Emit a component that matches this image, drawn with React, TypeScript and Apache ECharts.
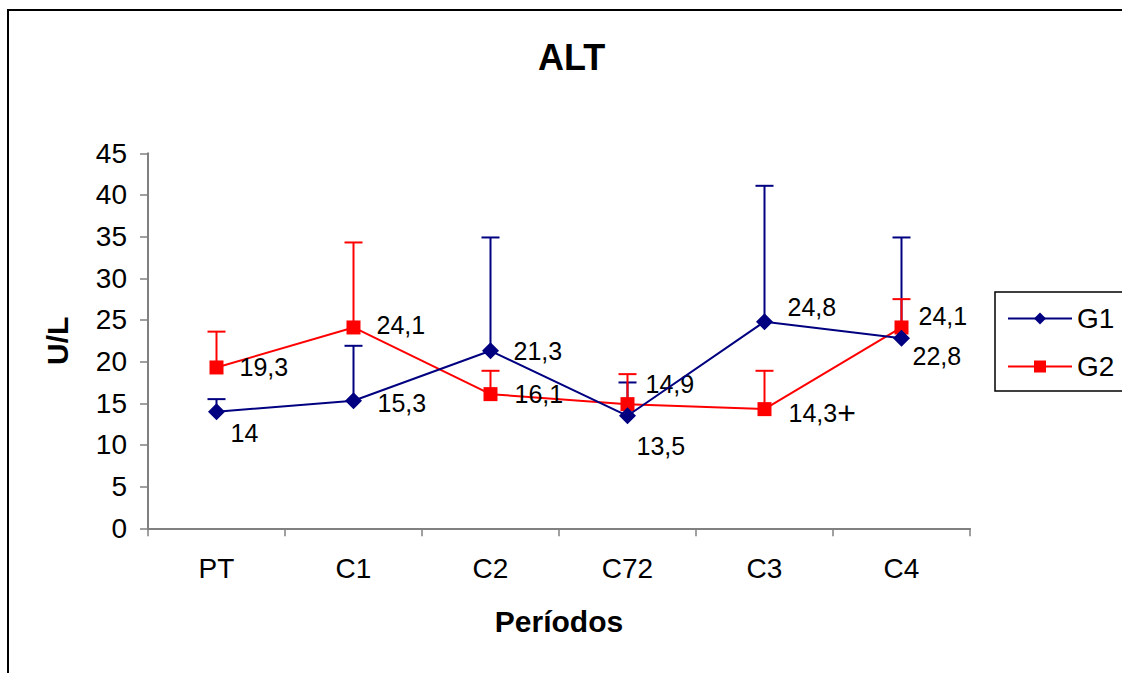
import React, { useEffect, useRef } from 'react';
import * as echarts from 'echarts';

// ---- data ----
const categories = ['PT', 'C1', 'C2', 'C72', 'C3', 'C4'];
const g1Mean = [14, 15.3, 21.3, 13.5, 24.8, 22.8];
const g1Upper = [15.5, 21.9, 34.9, 17.5, 41.1, 34.9];
const g2Mean = [19.3, 24.1, 16.1, 14.9, 14.3, 24.1];
const g2Upper = [23.6, 34.3, 18.9, 18.5, 18.9, 27.5];
const g2Marks = ['', '', '', '', '+', ''];
const yMin = 0;
const yMax = 45;
const yInterval = 5;

// ---- layout: label offsets from point centre [dx to text left, dy to text middle] ----
const g1LabelOffsets = [[14, 21], [24, 2], [23, 0], [9, 30], [23, -15], [11, 18]];
const g2LabelOffsets = [[23, 0], [23, -2], [24, 0], [18, -20], [24, 4], [17, -11]];

const FONT = "'Liberation Sans', Arial, sans-serif";
const BLUE = '#000080';
const RED = '#ff0000';

const fmt = (v: number) => String(v).replace('.', ',');

function lineData(means: number[], offsets: number[][], size: number, marks?: string[]) {
  return means.map((v, i) => ({
    value: v,
    label: {
      show: true,
      position: 'right',
      distance: 0,
      offset: [offsets[i][0] - size / 2, offsets[i][1]],
      formatter: fmt(v) + (marks && marks[i] ? '{m|' + marks[i] + '}' : ''),
      color: '#000',
      fontSize: 25,
      fontFamily: FONT,
      rich: { m: { fontSize: 32, color: '#000', fontFamily: FONT } },
    },
  }));
}

function errorSeries(name: string, means: number[], uppers: number[], color: string) {
  return {
    type: 'custom',
    name,
    z: 1,
    silent: true,
    data: means.map((m, i) => [i, m, uppers[i]]),
    encode: { x: 0, y: [1, 2] },
    renderItem: (params: any, api: any) => {
      const i = api.value(0);
      const p0 = api.coord([i, api.value(1)]);
      const p1 = api.coord([i, api.value(2)]);
      const cap = 9;
      const style = { stroke: color, lineWidth: 2 };
      return {
        type: 'group',
        children: [
          { type: 'line', shape: { x1: p0[0], y1: p0[1], x2: p1[0], y2: p1[1] }, style },
          { type: 'line', shape: { x1: p1[0] - cap, y1: p1[1], x2: p1[0] + cap, y2: p1[1] }, style },
        ],
      };
    },
  };
}

export default function App() {
  const ref = useRef<HTMLDivElement>(null);
  useEffect(() => {
    if (!ref.current) return;
    const chart = echarts.init(ref.current, undefined, { renderer: 'svg' });
    chart.setOption({
      animation: false,
      backgroundColor: '#fff',
      textStyle: { fontFamily: FONT },
      title: {
        text: 'ALT',
        left: 533,
        top: 34,
        textStyle: { fontSize: 36, fontWeight: 'bold', color: '#000', fontFamily: FONT },
      },
      graphic: [
        {
          type: 'rect',
          shape: { x: 8, y: 10, width: 1300, height: 900 },
          style: { fill: 'none', stroke: '#000', lineWidth: 2 },
          silent: true,
          z: -10,
        },
      ],
      legend: {
        data: ['G1', 'G2'],
        orient: 'vertical',
        left: 995,
        top: 292,
        padding: [12, 60, 10, 12],
        itemWidth: 64,
        itemHeight: 15,
        itemGap: 19,
        borderColor: '#000',
        borderWidth: 1.5,
        textStyle: { fontSize: 28, color: '#000', fontFamily: FONT, lineHeight: 29 },
      },
      grid: { left: 148, right: 152, top: 153.3, bottom: 144.7, containLabel: false },
      xAxis: {
        type: 'category',
        data: categories,
        boundaryGap: true,
        name: 'Períodos',
        nameLocation: 'middle',
        nameGap: 78,
        nameTextStyle: { fontSize: 30, fontWeight: 'bold', color: '#000', fontFamily: FONT },
        axisLine: { lineStyle: { color: '#808080', width: 2 } },
        axisTick: { show: true, length: 8, lineStyle: { color: '#808080', width: 1.5 } },
        axisLabel: { fontSize: 28, color: '#000', margin: 26, fontFamily: FONT },
        splitLine: { show: false },
      },
      yAxis: {
        type: 'value',
        min: yMin,
        max: yMax,
        interval: yInterval,
        name: 'U/L',
        nameLocation: 'middle',
        nameGap: 76,
        nameRotate: 90,
        nameTextStyle: { fontSize: 30, fontWeight: 'bold', color: '#000', fontFamily: FONT },
        axisLine: { show: true, lineStyle: { color: '#808080', width: 2 } },
        axisTick: { show: true, length: 8, lineStyle: { color: '#808080', width: 1.5 } },
        axisLabel: { fontSize: 28, color: '#000', margin: 21, fontFamily: FONT },
        splitLine: { show: false },
      },
      series: [
        errorSeries('G1 err', g1Mean, g1Upper, BLUE),
        errorSeries('G2 err', g2Mean, g2Upper, RED),
        {
          type: 'line',
          name: 'G1',
          z: 3,
          data: lineData(g1Mean, g1LabelOffsets, 17),
          symbol: 'diamond',
          symbolSize: 17,
          lineStyle: { color: BLUE, width: 2 },
          itemStyle: { color: BLUE },
        },
        {
          type: 'line',
          name: 'G2',
          z: 2,
          data: lineData(g2Mean, g2LabelOffsets, 14, g2Marks),
          symbol: 'rect',
          symbolSize: 14,
          lineStyle: { color: RED, width: 2 },
          itemStyle: { color: RED },
        },
      ],
    });
    return () => chart.dispose();
  }, []);
  return (
    <div
      ref={ref}
      style={{ position: 'fixed', left: 0, top: 0, width: 1122, height: 673, background: '#fff' }}
    />
  );
}
